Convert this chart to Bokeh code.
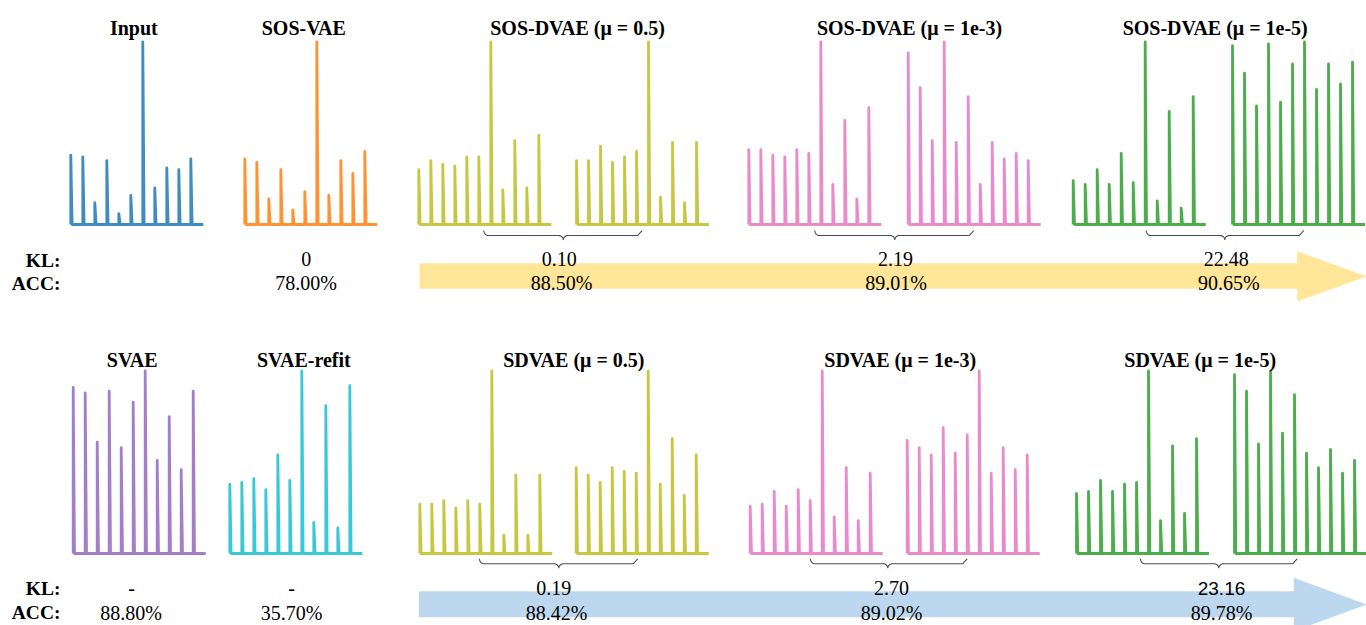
import numpy as np
from bokeh.plotting import figure
from bokeh.models import Range1d, ColumnDataSource
from bokeh.core.properties import value
from bokeh.embed import file_html
from bokeh.resources import INLINE

# ---------------- data (relative spike amplitudes, tallest = 1) ----------------
input_peaks      = [0.38, 0.37, 0.12, 0.35, 0.06, 0.16, 1.00, 0.20, 0.31, 0.30, 0.36]
sos_vae_peaks    = [0.36, 0.34, 0.14, 0.30, 0.08, 0.18, 1.00, 0.16, 0.35, 0.28, 0.40]
sos_dvae_05_a    = [0.30, 0.35, 0.33, 0.32, 0.37, 0.37, 1.00, 0.19, 0.46, 0.20, 0.49]
sos_dvae_05_b    = [0.35, 0.35, 0.43, 0.34, 0.37, 0.40, 1.00, 0.15, 0.45, 0.12, 0.45]
sos_dvae_1e3_a   = [0.41, 0.41, 0.38, 0.37, 0.41, 0.39, 1.00, 0.22, 0.57, 0.14, 0.64]
sos_dvae_1e3_b   = [0.94, 0.75, 0.46, 1.00, 0.45, 0.70, 0.22, 0.45, 0.36, 0.39, 0.35]
sos_dvae_1e5_a   = [0.24, 0.22, 0.30, 0.22, 0.39, 0.23, 1.00, 0.13, 0.62, 0.09, 0.70]
sos_dvae_1e5_b   = [0.98, 0.83, 0.65, 0.99, 0.67, 0.88, 1.00, 0.74, 0.88, 0.77, 0.89]

svae_peaks       = [0.91, 0.88, 0.61, 0.89, 0.58, 0.83, 1.00, 0.51, 0.75, 0.46, 0.89]
svae_refit_peaks = [0.38, 0.39, 0.41, 0.35, 0.54, 0.40, 1.00, 0.17, 0.81, 0.14, 0.92]
sdvae_05_a       = [0.27, 0.27, 0.29, 0.25, 0.29, 0.27, 1.00, 0.10, 0.43, 0.10, 0.43]
sdvae_05_b       = [0.47, 0.43, 0.39, 0.47, 0.45, 0.44, 1.00, 0.38, 0.63, 0.32, 0.54]
sdvae_1e3_a      = [0.26, 0.27, 0.34, 0.26, 0.35, 0.29, 1.00, 0.20, 0.47, 0.18, 0.44]
sdvae_1e3_b      = [0.62, 0.58, 0.54, 0.69, 0.55, 0.65, 1.00, 0.44, 0.58, 0.46, 0.54]
sdvae_1e5_a      = [0.33, 0.34, 0.40, 0.34, 0.38, 0.39, 1.00, 0.18, 0.59, 0.22, 0.63]
sdvae_1e5_b      = [0.98, 0.89, 0.60, 1.00, 0.66, 0.87, 0.55, 0.47, 0.57, 0.44, 0.51]

titles_top    = ["Input", "SOS-VAE", "SOS-DVAE (μ = 0.5)", "SOS-DVAE (μ = 1e-3)", "SOS-DVAE (μ = 1e-5)"]
titles_bottom = ["SVAE", "SVAE-refit", "SDVAE (μ = 0.5)", "SDVAE (μ = 1e-3)", "SDVAE (μ = 1e-5)"]
kl_top     = ["0", "0.10", "2.19", "22.48"]
acc_top    = ["78.00%", "88.50%", "89.01%", "90.65%"]
kl_bottom  = ["-", "-", "0.19", "2.70", "23.16"]
acc_bottom = ["88.80%", "35.70%", "88.42%", "89.02%", "89.78%"]

# ---------------- layout / style ----------------
BLUE, ORANGE, OLIVE, PINK, GREEN, PURPLE, CYAN = (
    "#1f77b4", "#ff7f0e", "#bcbd22", "#e377c2", "#2ca02c", "#9467bd", "#17becf")
SERIF = value("'Liberation Serif', 'Times New Roman', 'DejaVu Serif', serif")
SANS = value("'Liberation Sans', Arial, sans-serif")

W, H = 1366, 625
TOP_BASE, BOT_BASE, AMP, STEP, TAIL = 224.0, 553.0, 182.5, 12.0, 12.5

top_panels = [
    (input_peaks, 70.3, BLUE), (sos_vae_peaks, 244.3, ORANGE),
    (sos_dvae_05_a, 418.3, OLIVE), (sos_dvae_05_b, 576.0, OLIVE),
    (sos_dvae_1e3_a, 748.3, PINK), (sos_dvae_1e3_b, 907.7, PINK),
    (sos_dvae_1e5_a, 1072.7, GREEN), (sos_dvae_1e5_b, 1232.0, GREEN),
]
bottom_panels = [
    (svae_peaks, 72.7, PURPLE), (svae_refit_peaks, 229.3, CYAN),
    (sdvae_05_a, 419.3, OLIVE), (sdvae_05_b, 575.7, OLIVE),
    (sdvae_1e3_a, 749.7, PINK), (sdvae_1e3_b, 906.7, PINK),
    (sdvae_1e5_a, 1076.0, GREEN), (sdvae_1e5_b, 1234.0, GREEN),
]

p = figure(width=W, height=H, output_backend="svg", toolbar_location=None,
           x_range=Range1d(0, W), y_range=Range1d(H, 0),
           min_border=0, outline_line_color=None, background_fill_color="white")
p.axis.visible = False
p.grid.visible = False


def arrow(x0, body_top, body_bot, head_x, head_top, head_bot, tip_x, color):
    mid = (head_top + head_bot) / 2.0
    xs = [x0, head_x, head_x, tip_x, head_x, head_x, x0]
    ys = [body_top, body_top, head_top, mid, head_bot, body_bot, body_bot]
    p.patch(xs, ys, fill_color=color, line_color=None)


arrow(419.0, 262.7, 288.3, 1296.7, 250.7, 301.0, 1366.0, "#FFE699")
arrow(418.3, 590.7, 616.7, 1293.3, 577.3, 630.7, 1366.0, "#BDD7EE")


def brace(xl, xr, xc, y_end, y_mid, r=4.5):
    t = np.linspace(0, np.pi / 2, 8)
    xs, ys = [], []
    xs += list(xl + r - r * np.cos(t)); ys += list(y_end + (y_mid - y_end) * np.sin(t))
    xs += list(xc - r + r * np.sin(t)); ys += list(y_mid + r - r * np.cos(t))
    xs += list(xc + r - r * np.cos(t)); ys += list(y_mid + r - r * np.sin(t))
    xs += list(xr - r + r * np.sin(t)); ys += list(y_mid - (y_mid - y_end) * np.sin(t))
    return xs, ys


bx, by = [], []
for xl, xr, xc in [(483.3, 641.7, 562.7), (814.3, 973.3, 894.3), (1145.7, 1303.3, 1224.3)]:
    a, b = brace(xl, xr, xc, 230.0, 235.0)
    bx.append(a); by.append(b)
for xl, xr, xc in [(479.0, 637.3, 558.3), (810.0, 966.7, 887.3), (1140.0, 1296.7, 1218.3)]:
    a, b = brace(xl, xr, xc, 558.3, 563.3)
    bx.append(a); by.append(b)
p.multi_line(bx, by, line_color="#4d4d4d", line_width=1.1)


def spike_path(peaks, x0, base):
    xs, ys = [], []
    for i, h in enumerate(peaks):
        x = x0 + i * STEP
        top = base - h * AMP
        xs += [x, x, x + 1.3]
        ys += [base, top, base]
    xs.append(x0 + (len(peaks) - 1) * STEP + TAIL)
    ys.append(base)
    return xs, ys


lx, ly, lc = [], [], []
for peaks, x0, col in top_panels:
    a, b = spike_path(peaks, x0, TOP_BASE)
    lx.append(a); ly.append(b); lc.append(col)
for peaks, x0, col in bottom_panels:
    a, b = spike_path(peaks, x0, BOT_BASE)
    lx.append(a); ly.append(b); lc.append(col)
p.multi_line(xs="xs", ys="ys", line_color="c",
             source=ColumnDataSource(dict(xs=lx, ys=ly, c=lc)),
             line_width=2.8, line_alpha=0.85, line_join="round")

# titles
p.text(x=[133.3, 303.3, 577.0, 909.0, 1214.7], y=[27.0] * 5, text=titles_top,
       text_font=SERIF, text_font_style="bold", text_font_size="20px",
       text_align="center", text_baseline="alphabetic", text_color="black")
p.text(x=[131.7, 303.3, 573.3, 899.7, 1199.7], y=[359.0] * 5, text=titles_bottom,
       text_font=SERIF, text_font_style="bold", text_font_size="20px",
       text_align="center", text_baseline="alphabetic", text_color="black")

# row labels
p.text(x=[60, 60, 60, 60], y=[259.5, 282.7, 588.3, 611.8], text=["KL:", "ACC:", "KL:", "ACC:"],
       text_font=SERIF, text_font_style="bold", text_font_size="19.5px",
       text_align="right", text_baseline="alphabetic", text_color="black")

# values (top)
p.text(x=[305.7, 558.8, 895.0, 1225.7], y=[258.8] * 4, text=kl_top,
       text_font=SERIF, text_font_style="normal", text_font_size="20px", text_align="center",
       text_baseline="alphabetic", text_color="black")
p.text(x=[305.7, 561.0, 895.7, 1228.3], y=[282.7] * 4, text=acc_top,
       text_font=SERIF, text_font_style="normal", text_font_size="20px", text_align="center",
       text_baseline="alphabetic", text_color="black")

# values (bottom)
p.text(x=[131.0, 291.0, 553.3, 891.0], y=[587.7] * 4, text=kl_bottom[:4],
       text_font=SERIF, text_font_style="normal", text_font_size="20px", text_align="center",
       text_baseline="alphabetic", text_color="black")
p.text(x=[1221.0], y=[588.0], text=kl_bottom[4:],
       text_font=SANS, text_font_size="19px", text_align="center",
       text_baseline="alphabetic", text_color="black")
p.text(x=[130.7, 291.0, 556.0, 891.0, 1221.0], y=[612.0] * 5, text=acc_bottom,
       text_font=SERIF, text_font_style="normal", text_font_size="20px", text_align="center",
       text_baseline="alphabetic", text_color="black")

open("out.html", "w").write(file_html(p, INLINE))
